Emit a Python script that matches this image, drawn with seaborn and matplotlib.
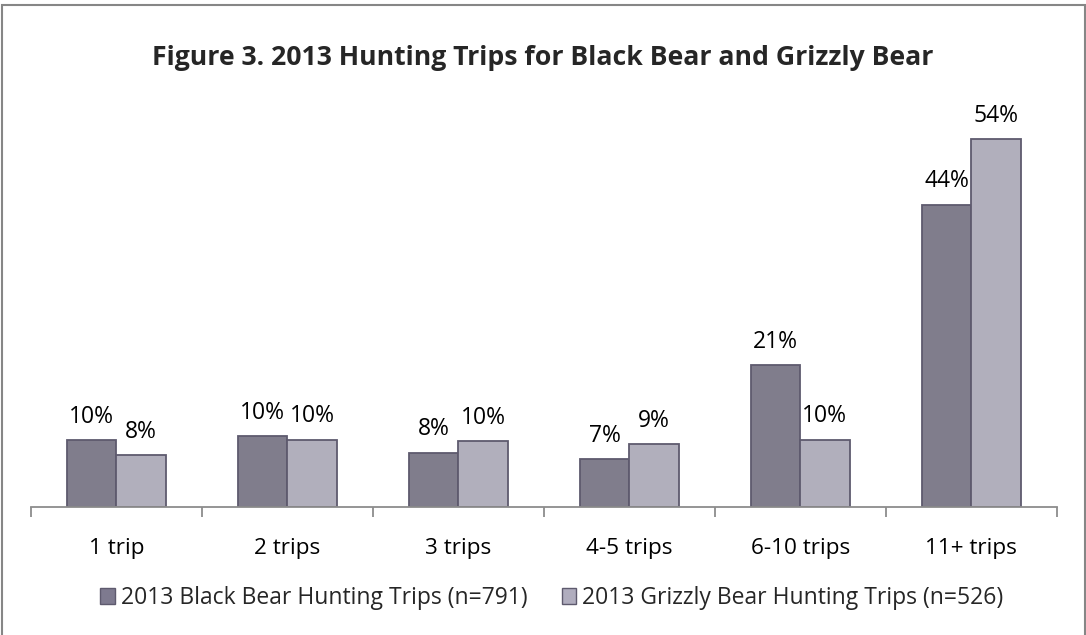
import matplotlib
matplotlib.use('Agg')
import matplotlib.pyplot as plt
from matplotlib.patches import Rectangle, Patch
from matplotlib.ticker import FixedLocator
import pandas as pd
import seaborn as sns

# Data (percent of hunters)
categories = ['1 trip', '2 trips', '3 trips', '4-5 trips', '6-10 trips', '11+ trips']
black_bear = [9.8, 10.4, 8.0, 7.0, 20.8, 44.4]
grizzly_bear = [7.6, 9.9, 9.7, 9.2, 9.9, 54.0]
black_labels = ['10%', '10%', '8%', '7%', '21%', '44%']
grizzly_labels = ['8%', '10%', '10%', '9%', '10%', '54%']
series_names = ['2013 Black Bear Hunting Trips (n=791)',
                '2013 Grizzly Bear Hunting Trips (n=526)']

colors = ['#7e7a8f', '#b0adbe']
edge = '#5e5a6e'

# long form table for seaborn
df = pd.DataFrame({
    'trips': categories * 2,
    'pct': black_bear + grizzly_bear,
    'series': [series_names[0]] * 6 + [series_names[1]] * 6,
})

sns.set_style('white')
plt.rcParams['font.family'] = ['Open Sans', 'DejaVu Sans']

fig = plt.figure(figsize=(10.86, 6.35), dpi=100)
ax = fig.add_axes([0.0285, 0.2016, 0.9445, 0.6435])

sns.barplot(data=df, x='trips', y='pct', hue='series', order=categories,
            hue_order=series_names, palette=colors, width=0.577,
            edgecolor=edge, linewidth=1.3, legend=False, ax=ax)

for cont, labs in zip(ax.containers, [black_labels, grizzly_labels]):
    ax.bar_label(cont, labels=labs, padding=8, fontsize=16.5, color='#000000')

ax.set_ylim(0, 60)
ax.set_xlim(-0.5, len(categories) - 0.5)
ax.set_xlabel('')
ax.set_ylabel('')
ax.set_yticks([])

# category labels in the middle, tick marks on the boundaries
ax.tick_params(axis='x', which='major', bottom=True, length=0, pad=22,
               labelsize=16.2, labelcolor='#000000')
ax.xaxis.set_minor_locator(FixedLocator([i - 0.5 for i in range(len(categories) + 1)]))
ax.tick_params(axis='x', which='minor', bottom=True, length=7, width=1.3,
               color='#8c8c8c', direction='out')

for s in ['top', 'right', 'left']:
    ax.spines[s].set_visible(False)
ax.spines['bottom'].set_color('#8c8c8c')
ax.spines['bottom'].set_linewidth(1.3)

fig.text(0.5, 0.909, 'Figure 3. 2013 Hunting Trips for Black Bear and Grizzly Bear',
         ha='center', va='center', fontsize=19.2, fontweight='bold')

handles = [Patch(facecolor=c, edgecolor=edge, linewidth=1.0) for c in colors]
fig.legend(handles, series_names, loc='center', bbox_to_anchor=(0.508, 0.058), ncol=2,
           frameon=False, fontsize=16.5, handlelength=0.65, handleheight=0.65,
           handletextpad=0.25, columnspacing=1.5)

# outer chart border
fig.patches.append(Rectangle((2 / 1086, -0.1), 1083 / 1086, 1.1 - 4.5 / 635,
                             transform=fig.transFigure, fill=False,
                             edgecolor='#868686', linewidth=1.5))

fig.savefig('out.png', dpi=100)
